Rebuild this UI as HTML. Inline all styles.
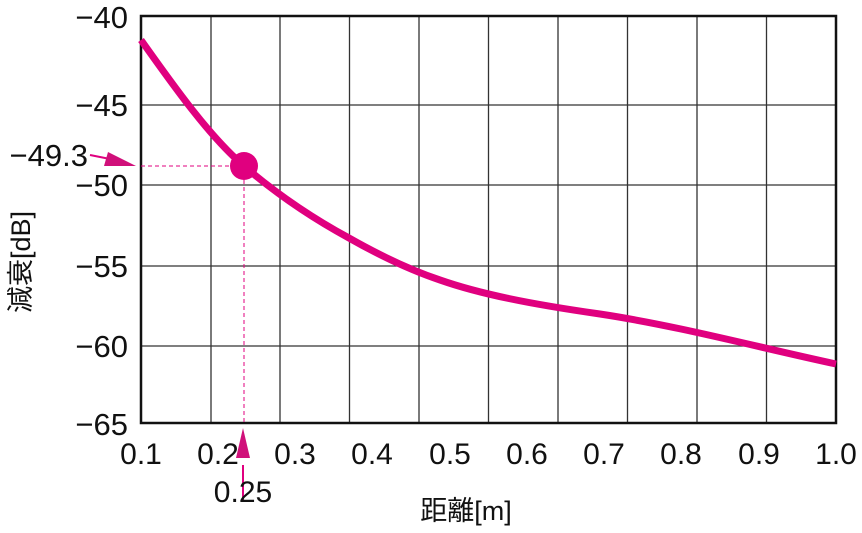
<!DOCTYPE html>
<html><head><meta charset="utf-8"><style>
body{margin:0;background:#fff;width:862px;height:528px;overflow:hidden}
text{font-family:"Liberation Sans","Noto Sans CJK JP",sans-serif;fill:#111}
</style></head><body>
<svg width="862" height="528" viewBox="0 0 862 528">
<g stroke="#333" stroke-width="1.3">
<line x1="211" y1="16" x2="211" y2="423"/><line x1="280" y1="16" x2="280" y2="423"/>
<line x1="349.5" y1="16" x2="349.5" y2="423"/><line x1="419" y1="16" x2="419" y2="423"/>
<line x1="488.5" y1="16" x2="488.5" y2="423"/><line x1="558" y1="16" x2="558" y2="423"/>
<line x1="627.5" y1="16" x2="627.5" y2="423"/><line x1="697" y1="16" x2="697" y2="423"/>
<line x1="766.5" y1="16" x2="766.5" y2="423"/>
<line x1="141" y1="105" x2="836" y2="105"/><line x1="141" y1="185" x2="836" y2="185"/>
<line x1="141" y1="266" x2="836" y2="266"/><line x1="141" y1="346" x2="836" y2="346"/>
</g>
<rect x="141" y="16" width="695" height="407" fill="none" stroke="#111" stroke-width="2.5"/>
<g stroke="#e0007f" stroke-width="1" stroke-dasharray="4,3">
<line x1="141" y1="166" x2="244" y2="166"/><line x1="244" y1="166" x2="244" y2="423"/>
</g>
<path d="M141,40 C175,88 210,137 244,166 C279,196 314,219 349,238 C379,255 410,270 440,280 C480,294 530,304 600,314 C679,326 757,347 836,364" fill="none" stroke="#e0007f" stroke-width="7"/>
<circle cx="244" cy="166" r="14" fill="#e0007f"/>
<line x1="90" y1="155" x2="115" y2="160" stroke="#e0007f" stroke-width="2"/>
<polygon points="136,166 108,152 104,166" fill="#d0107a"/>
<line x1="243" y1="500" x2="243" y2="465" stroke="#e0007f" stroke-width="2"/>
<polygon points="243,428 236,458 250,458" fill="#d0107a"/>
<g font-size="31" text-anchor="end">
<text x="128" y="28">−40</text><text x="128" y="116">−45</text>
<text x="128" y="196">−50</text><text x="128" y="277">−55</text>
<text x="128" y="357">−60</text><text x="128" y="435">−65</text>
<text x="88" y="166">−49.3</text>
</g>
<g font-size="30" text-anchor="middle">
<text x="141" y="464">0.1</text><text x="218" y="464">0.2</text><text x="295" y="464">0.3</text>
<text x="372" y="464">0.4</text><text x="450" y="464">0.5</text><text x="527" y="464">0.6</text>
<text x="604" y="464">0.7</text><text x="681" y="464">0.8</text><text x="759" y="464">0.9</text>
<text x="836" y="464">1.0</text><text x="243" y="502">0.25</text>
</g>
<text x="466" y="520" font-size="27" text-anchor="middle">距離[m]</text>
<text transform="translate(30,262) rotate(-90)" font-size="27" text-anchor="middle">減衰[dB]</text>
</svg>
</body></html>
